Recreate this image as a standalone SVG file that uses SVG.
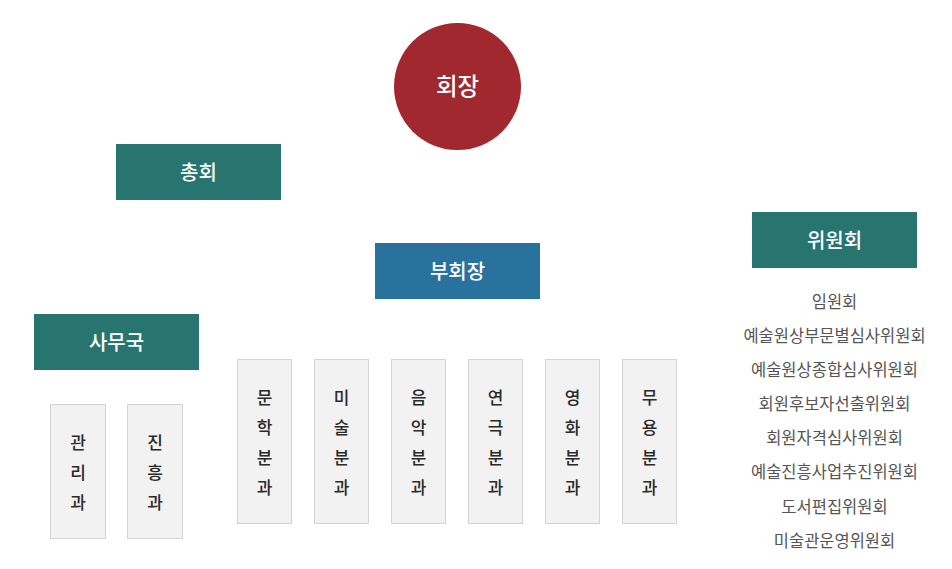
<svg xmlns="http://www.w3.org/2000/svg" width="952" height="569" viewBox="0 0 952 569">
<style>
text{font-family:"Noto Sans CJK KR","Noto Sans",sans-serif;text-anchor:middle;dominant-baseline:central}
.teal{fill:#287570}
.blue{fill:#2a729e}
.hd{fill:#ffffff;font-size:20px;font-weight:500}
.sub{fill:#f2f2f2;stroke:#d4d4d4;stroke-width:1}
.vt{fill:#2a2a2a;font-size:17px;font-weight:500}
.li{fill:#555555;font-size:16.5px}
</style>
<rect width="952" height="569" fill="#ffffff"/>
<g id="connectors"></g>
<g id="president">
<circle cx="457.5" cy="86.5" r="63.5" fill="#a0282e"/>
<text x="457.5" y="84.5" class="hd" style="font-size:23.5px">회장</text>
</g>
<g id="general-assembly">
<rect x="116" y="144" width="165" height="56" class="teal"/>
<text x="198.5" y="171" class="hd">총회</text>
</g>
<g id="vice-president">
<rect x="375" y="243" width="165" height="56" class="blue"/>
<text x="457.5" y="270" class="hd">부회장</text>
</g>
<g id="secretariat">
<rect x="34" y="314" width="165" height="56" class="teal"/>
<text x="116.5" y="341" class="hd">사무국</text>
</g>
<g id="committee">
<rect x="752" y="212" width="165" height="56" class="teal"/>
<text x="834.5" y="239" class="hd">위원회</text>
</g>
<g id="admin-dept">
<rect x="50.5" y="404.5" width="55" height="134" class="sub"/>
<text x="78" y="441.5" class="vt">관</text><text x="78" y="471.5" class="vt">리</text><text x="78" y="501.5" class="vt">과</text>
</g>
<g id="promotion-dept">
<rect x="127.5" y="404.5" width="55" height="134" class="sub"/>
<text x="155" y="441.5" class="vt">진</text><text x="155" y="471.5" class="vt">흥</text><text x="155" y="501.5" class="vt">과</text>
</g>
<g id="literature">
<rect x="237.5" y="359.5" width="54" height="164" class="sub"/>
<text x="264.5" y="396.5" class="vt">문</text><text x="264.5" y="426.5" class="vt">학</text><text x="264.5" y="456.5" class="vt">분</text><text x="264.5" y="486.5" class="vt">과</text>
</g>
<g id="fine-arts">
<rect x="314.5" y="359.5" width="54" height="164" class="sub"/>
<text x="341.5" y="396.5" class="vt">미</text><text x="341.5" y="426.5" class="vt">술</text><text x="341.5" y="456.5" class="vt">분</text><text x="341.5" y="486.5" class="vt">과</text>
</g>
<g id="music">
<rect x="391.5" y="359.5" width="54" height="164" class="sub"/>
<text x="418.5" y="396.5" class="vt">음</text><text x="418.5" y="426.5" class="vt">악</text><text x="418.5" y="456.5" class="vt">분</text><text x="418.5" y="486.5" class="vt">과</text>
</g>
<g id="theater">
<rect x="468.5" y="359.5" width="54" height="164" class="sub"/>
<text x="495.5" y="396.5" class="vt">연</text><text x="495.5" y="426.5" class="vt">극</text><text x="495.5" y="456.5" class="vt">분</text><text x="495.5" y="486.5" class="vt">과</text>
</g>
<g id="film">
<rect x="545.5" y="359.5" width="54" height="164" class="sub"/>
<text x="572.5" y="396.5" class="vt">영</text><text x="572.5" y="426.5" class="vt">화</text><text x="572.5" y="456.5" class="vt">분</text><text x="572.5" y="486.5" class="vt">과</text>
</g>
<g id="dance">
<rect x="622.5" y="359.5" width="54" height="164" class="sub"/>
<text x="649.5" y="396.5" class="vt">무</text><text x="649.5" y="426.5" class="vt">용</text><text x="649.5" y="456.5" class="vt">분</text><text x="649.5" y="486.5" class="vt">과</text>
</g>
<g id="committee-list">
<text x="834.5" y="300.5" class="li">임원회</text>
<text x="834.5" y="335" class="li">예술원상부문별심사위원회</text>
<text x="834.5" y="369" class="li">예술원상종합심사위원회</text>
<text x="834.5" y="403" class="li">회원후보자선출위원회</text>
<text x="834.5" y="437" class="li">회원자격심사위원회</text>
<text x="834.5" y="471" class="li">예술진흥사업추진위원회</text>
<text x="834.5" y="505.5" class="li">도서편집위원회</text>
<text x="834.5" y="539.5" class="li">미술관운영위원회</text>
</g>
</svg>
